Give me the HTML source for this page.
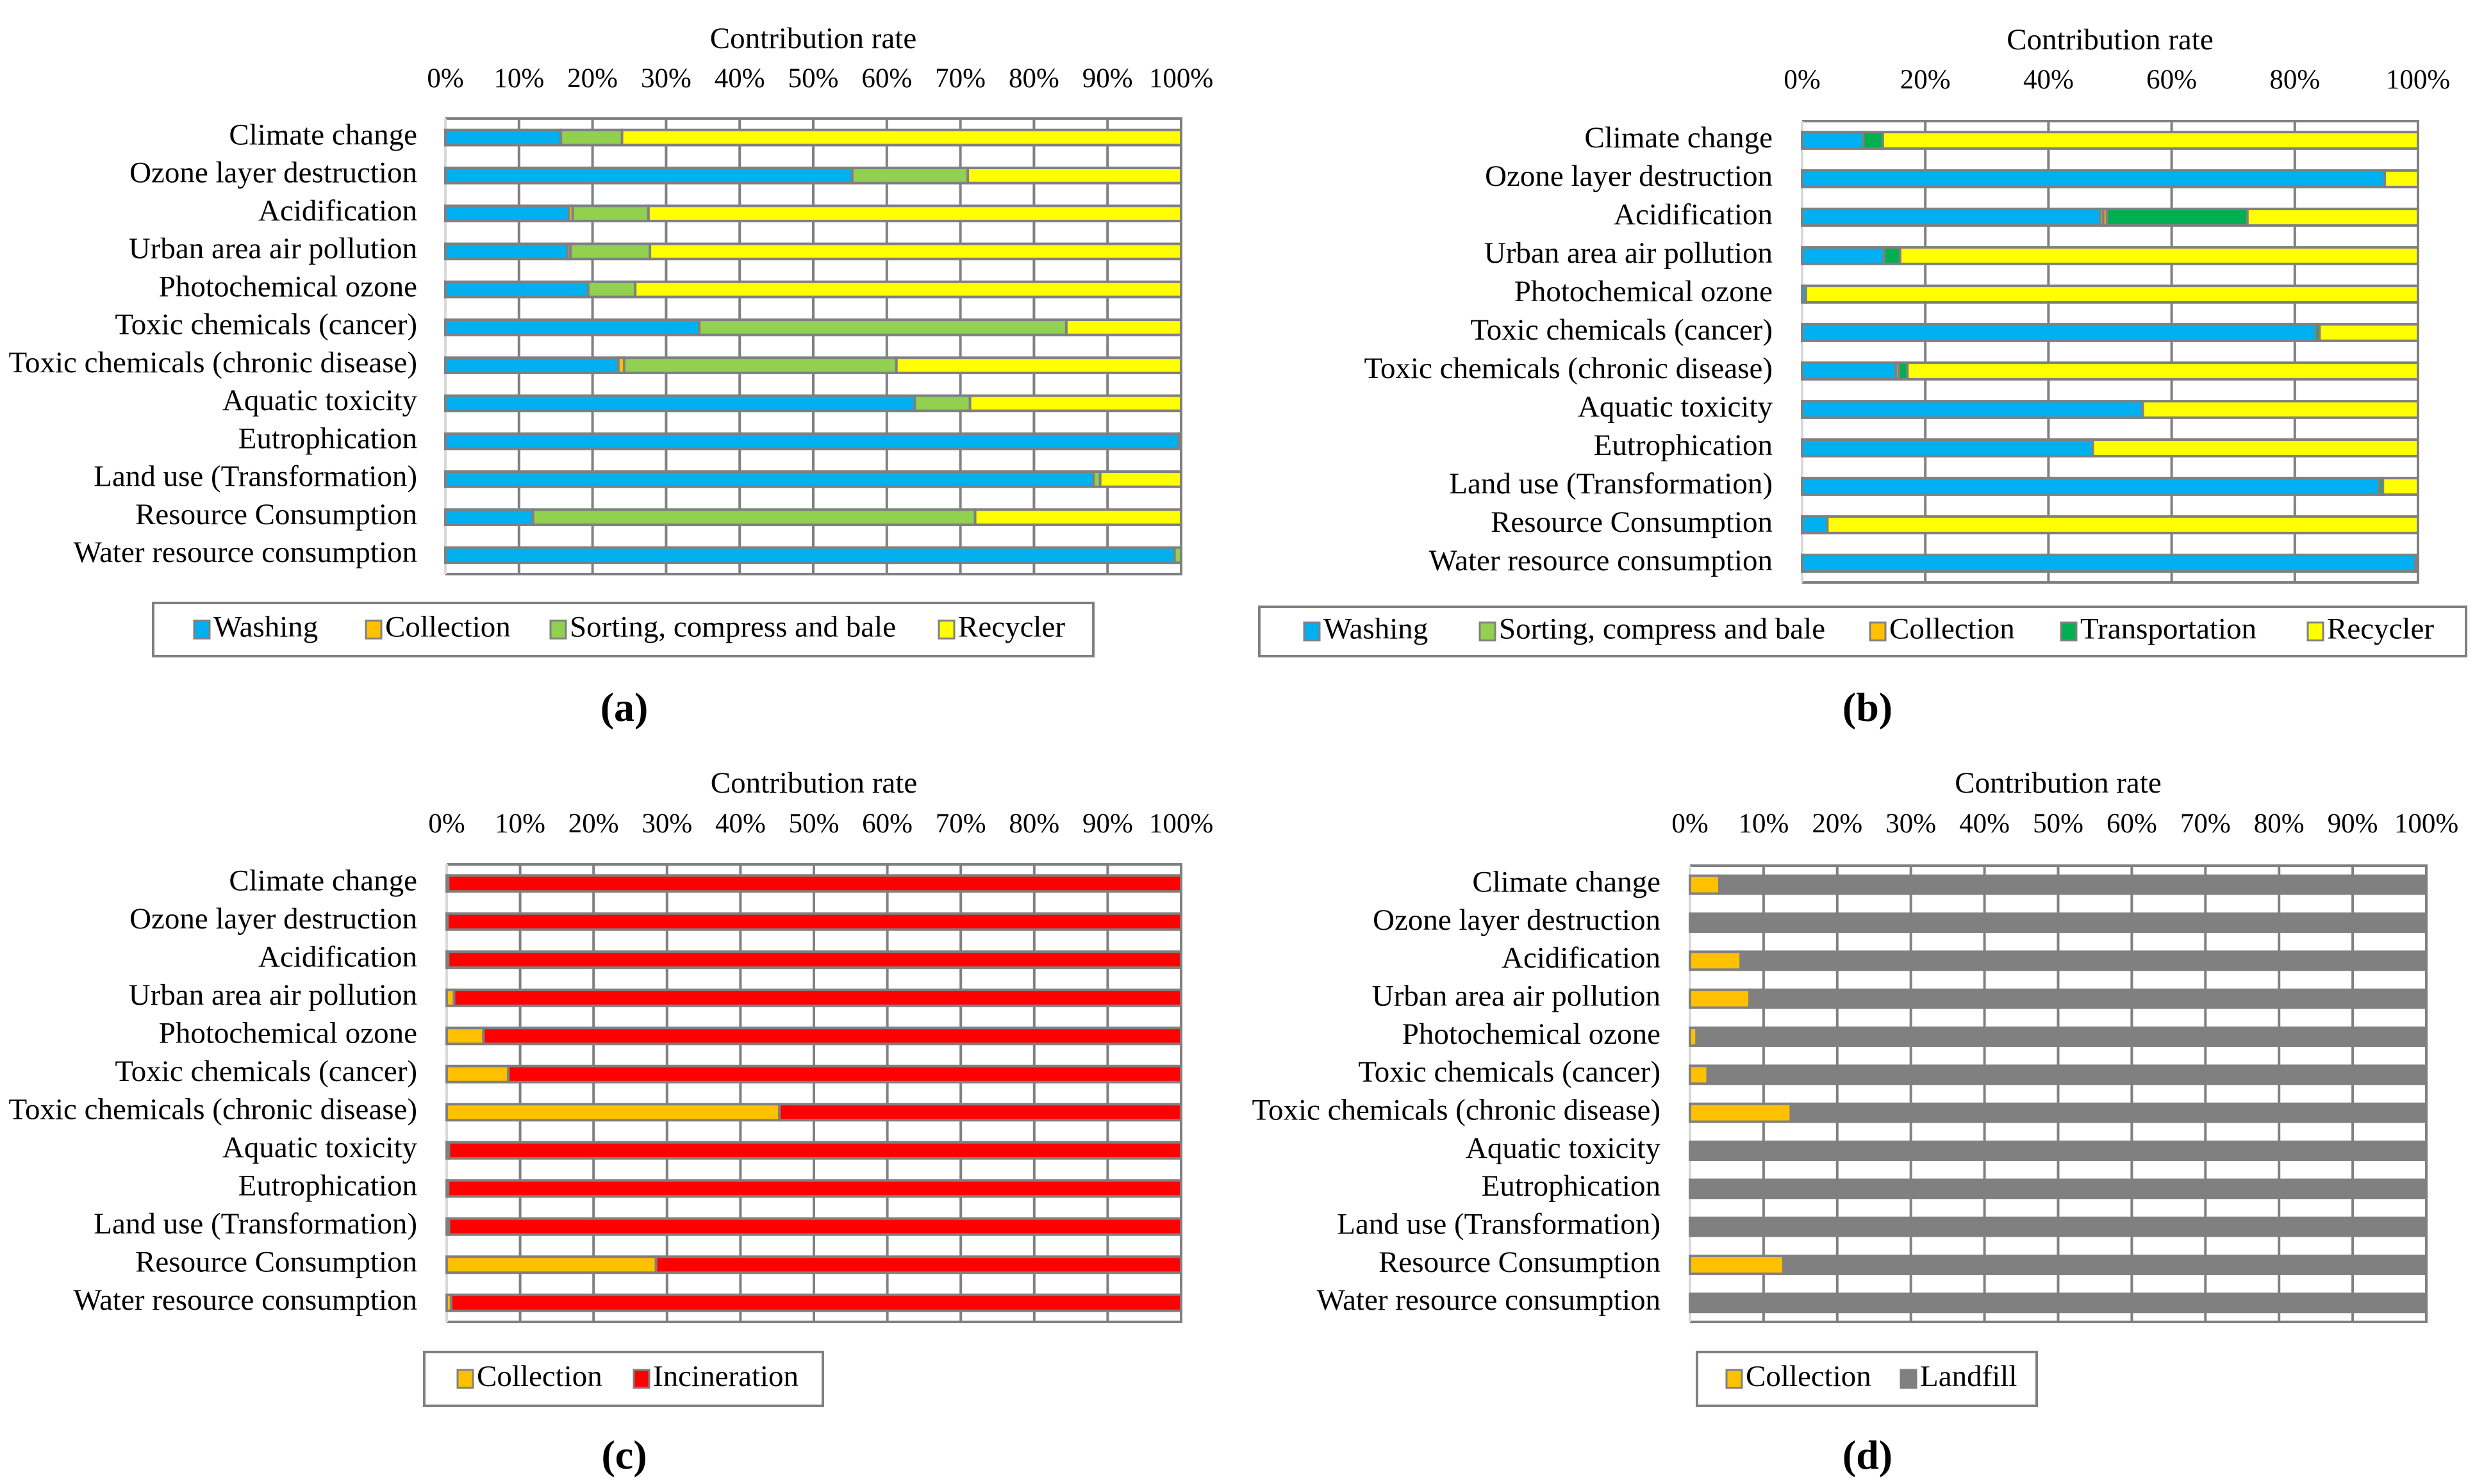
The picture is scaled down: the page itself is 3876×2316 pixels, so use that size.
<!DOCTYPE html>
<html><head><meta charset="utf-8"><style>
html,body{margin:0;padding:0;background:#fff;}
svg{display:block;font-family:"Liberation Serif",serif;}
</style></head><body>
<svg id="fig" width="3876" height="2316" viewBox="0 0 3876 2316" xmlns="http://www.w3.org/2000/svg"></svg>
<script>
const categories=["Climate change","Ozone layer destruction","Acidification","Urban area air pollution","Photochemical ozone","Toxic chemicals (cancer)","Toxic chemicals (chronic disease)","Aquatic toxicity","Eutrophication","Land use (Transformation)","Resource  Consumption","Water resource consumption"];
// panel a
const aWashing=[15.7,55.3,16.8,16.6,19.4,34.5,23.5,63.8,99.7,88.1,11.9,99.1];
const aCollection=[0,0,0.5,0.4,0,0,0.8,0,0,0,0,0];
const aSorting=[8.3,15.7,10.3,10.8,6.4,49.9,37.0,7.5,0.3,0.9,60.1,0.9];
const aRecycler=[76.0,29.0,72.4,72.2,74.2,15.6,38.7,28.7,0,11.0,28.0,0];
// panel b
const bWashing=[9.9,94.6,48.4,13.3,0.6,83.4,15.2,55.3,47.2,93.7,4.1,99.6];
const bSorting=[0,0,0.5,0,0,0,0.5,0,0,0,0,0];
const bCollection=[0,0,0.6,0,0,0,0,0,0,0,0,0];
const bTransportation=[3.2,0,22.8,2.6,0,0.6,1.4,0,0,0.6,0,0];
const bRecycler=[86.9,5.4,27.7,84.1,99.4,16.0,82.9,44.7,52.8,5.7,95.9,0.4];
// panel c
const cCollection=[0.2,0.1,0.2,1.0,5.0,8.4,45.3,0.3,0.2,0.3,28.5,0.6];
const cIncineration=[99.8,99.9,99.8,99.0,95.0,91.6,54.7,99.7,99.8,99.7,71.5,99.4];
// panel d
const dCollection=[4.0,0,6.9,8.1,0.9,2.4,13.7,0,0,0,12.7,0];
const dLandfill=[96.0,100,93.1,91.9,99.1,97.6,86.3,100,100,100,87.3,100];
const ticks10=["0%","10%","20%","30%","40%","50%","60%","70%","80%","90%","100%"];
const ticks20=["0%","20%","40%","60%","80%","100%"];

const C={blue:"#00B0F0",orange:"#FFC000",green:"#92D050",yellow:"#FFFF00",dgreen:"#00B050",red:"#FF0000",gray:"#808080"};
const NS="http://www.w3.org/2000/svg";
const svg=document.getElementById('fig');
function mk(tag,attrs,parent){const e=document.createElementNS(NS,tag);for(const k in attrs)e.setAttribute(k,attrs[k]);(parent||svg).appendChild(e);return e;}

const panels=[
 {id:"a",x0:695,x1:1843,y0:185,y1:896,labelX:651,titleY:64,tickY:126,frac:0.40,ticks:ticks10,
  series:[["Washing",aWashing,C.blue],["Collection",aCollection,C.orange],["Sorting, compress and bale",aSorting,C.green],["Recycler",aRecycler,C.yellow]],
  legend:{x0:239,x1:1706,y0:941,y1:1024,items:[303,571,859,1465]},cap:[974,1125]},
 {id:"b",x0:2812,x1:3773,y0:189,y1:909,labelX:2766,titleY:66,tickY:128,frac:0.43,ticks:ticks20,
  series:[["Washing",bWashing,C.blue],["Sorting, compress and bale",bSorting,C.green],["Collection",bCollection,C.orange],["Transportation",bTransportation,C.dgreen],["Recycler",bRecycler,C.yellow]],
  legend:{x0:1965,x1:3848,y0:947,y1:1024,items:[2035,2309,2918,3216,3601]},cap:[2914,1125]},
 {id:"c",x0:697,x1:1843,y0:1349,y1:2063,labelX:651,titleY:1226,tickY:1289,frac:0.42,ticks:ticks10,
  series:[["Collection",cCollection,C.orange],["Incineration",cIncineration,C.red]],
  legend:{x0:662,x1:1284,y0:2110,y1:2194,items:[714,989]},cap:[974,2292]},
 {id:"d",x0:2637,x1:3786,y0:1351,y1:2063,labelX:2591,titleY:1226,tickY:1289,frac:0.47,ticks:ticks10,
  series:[["Collection",dCollection,C.orange],["Landfill",dLandfill,C.gray]],
  legend:{x0:2648,x1:3178,y0:2110,y1:2194,items:[2694,2966]},cap:[2914,2292]}
];

panels.forEach(p=>{
 const g=mk('g',{});
 
 
 const xs=v=>p.x0+(p.x1-p.x0)*v/100;
 const rowH=(p.y1-p.y0)/categories.length;
 const ys=i=>p.y0+rowH*(i+0.5);
 const t=mk('text',{x:(p.x0+p.x1)/2,y:p.titleY,'font-size':47,'text-anchor':'middle','dominant-baseline':'middle',fill:'#000'},g);
 t.textContent="Contribution rate";
 
 
 const n=p.ticks.length-1;
 p.ticks.forEach((lab,k)=>{
  const x=xs(k*100/n);
  if(k>0){const l=mk('line',{x1:x,x2:x,y1:p.y0,y2:p.y1,stroke:C.gray,'stroke-width':4},g);
   
   }
  const tx=mk('text',{x:x,y:p.tickY,'font-size':43,'text-anchor':'middle','dominant-baseline':'middle',fill:'#000'},g);
  tx.textContent=lab;
  
  
 });
 const fr=mk('path',{d:`M${p.x0} ${p.y0}H${p.x1}V${p.y1}H${p.x0}`,fill:'none',stroke:C.gray,'stroke-width':4},g);
 
 
 const ax=mk('line',{x1:p.x0,x2:p.x0,y1:p.y0,y2:p.y1,stroke:'#d9d9d9','stroke-width':4},g);
 
 
 const bh=rowH*p.frac;
 categories.forEach((cat,i)=>{
  const cy=ys(i);
  const lt=mk('text',{x:p.labelX,y:cy,'font-size':47,'text-anchor':'end','dominant-baseline':'middle',fill:'#000'},g);
  lt.textContent=cat;
  
  
  let acc=0;
  p.series.forEach(s=>{
   const v=s[1][i];
   if(v>0){
    const r=mk('rect',{x:xs(acc),y:cy-bh/2,width:xs(acc+v)-xs(acc),height:bh,fill:s[2],stroke:C.gray,'stroke-width':4},g);
    
    
   }
   acc+=v;
  });
 });
 const L=p.legend;
 const lb=mk('rect',{x:L.x0,y:L.y0,width:L.x1-L.x0,height:L.y1-L.y0,fill:'#fff',stroke:C.gray,'stroke-width':4},g);
 
 
 const lcy=(L.y0+L.y1)/2;
 p.series.forEach((s,k)=>{
  const lx=L.items[k];
  const sq=mk('rect',{x:lx,y:lcy-14,width:24,height:28,fill:s[2],stroke:C.gray,'stroke-width':3},g);
  
  
  const lt=mk('text',{x:lx+30,y:lcy,'font-size':47,'dominant-baseline':'middle',fill:'#000'},g);
  lt.textContent=s[0];
  
  
 });
 const cap=mk('text',{x:p.cap[0],y:p.cap[1],'font-size':64,'text-anchor':'middle','font-weight':'bold',fill:'#000'},g);
 cap.textContent='('+p.id+')';
 
 
});
</script>
</body></html>
